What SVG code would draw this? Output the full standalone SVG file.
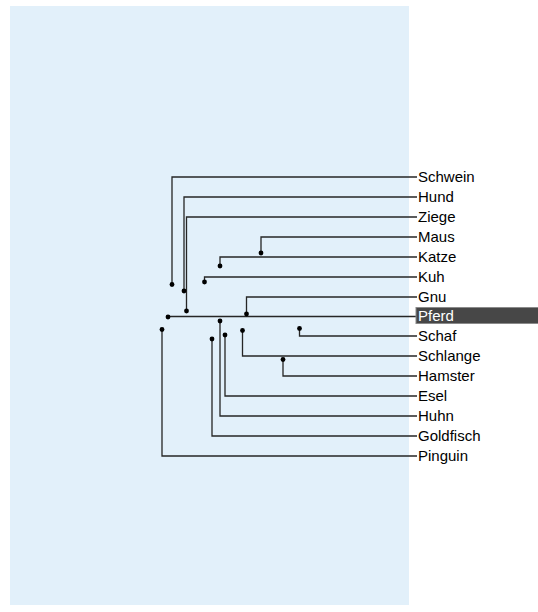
<svg xmlns="http://www.w3.org/2000/svg" width="538" height="612" viewBox="0 0 538 612">
<style>
.bg{fill:#e2f0fa}
.ln{fill:none;stroke:#262626;stroke-width:1.3}
.dot{fill:#000}
.lbl{font-family:"Liberation Sans",Arial,sans-serif;font-size:15px;fill:#000}
.sel{fill:#474747;stroke:#8a8a8a;stroke-width:1}
.lbls{font-family:"Liberation Sans",Arial,sans-serif;font-size:15px;fill:#fff}
</style>
<rect class="bg" x="10" y="6" width="399" height="599"/>
<g id="connectors">
<polyline class="ln" points="172,284 172,177 417,177"/>
<polyline class="ln" points="184,291 184,197 417,197"/>
<polyline class="ln" points="186.5,311 186.5,217 417,217"/>
<polyline class="ln" points="261,253 261,237 417,237"/>
<polyline class="ln" points="220,266 220,257 417,257"/>
<polyline class="ln" points="204.5,282 204.5,277 417,277"/>
<polyline class="ln" points="246.5,314 246.5,297 417,297"/>
<polyline class="ln" points="168,316.5 417,316.5"/>
<polyline class="ln" points="299.5,328.5 299.5,336 417,336"/>
<polyline class="ln" points="242.5,330.5 242.5,356 417,356"/>
<polyline class="ln" points="283,359.5 283,376 417,376"/>
<polyline class="ln" points="225,335 225,396 417,396"/>
<polyline class="ln" points="220,321 220,416 417,416"/>
<polyline class="ln" points="212,339 212,436 417,436"/>
<polyline class="ln" points="162,329.5 162,456 417,456"/>
</g>
<g id="Schwein"><circle class="dot" cx="172" cy="284.5" r="2.4"/><text class="lbl" x="418" y="182">Schwein</text></g>
<g id="Hund"><circle class="dot" cx="184" cy="291" r="2.4"/><text class="lbl" x="418" y="202">Hund</text></g>
<g id="Ziege"><circle class="dot" cx="186.5" cy="311" r="2.4"/><text class="lbl" x="418" y="222">Ziege</text></g>
<g id="Maus"><circle class="dot" cx="261" cy="253" r="2.4"/><text class="lbl" x="418" y="242">Maus</text></g>
<g id="Katze"><circle class="dot" cx="220" cy="266" r="2.4"/><text class="lbl" x="418" y="262">Katze</text></g>
<g id="Kuh"><circle class="dot" cx="204.5" cy="282" r="2.4"/><text class="lbl" x="418" y="282">Kuh</text></g>
<g id="Gnu"><circle class="dot" cx="246.5" cy="314" r="2.4"/><text class="lbl" x="418" y="302">Gnu</text></g>
<g id="Pferd"><circle class="dot" cx="168" cy="317" r="2.4"/><rect class="sel" x="416" y="307.5" width="124" height="16"/><text class="lbls" x="418" y="321">Pferd</text></g>
<g id="Schaf"><circle class="dot" cx="299.5" cy="328.5" r="2.4"/><text class="lbl" x="418" y="341">Schaf</text></g>
<g id="Schlange"><circle class="dot" cx="242.5" cy="330.5" r="2.4"/><text class="lbl" x="418" y="361">Schlange</text></g>
<g id="Hamster"><circle class="dot" cx="283" cy="359.5" r="2.4"/><text class="lbl" x="418" y="381">Hamster</text></g>
<g id="Esel"><circle class="dot" cx="225" cy="335" r="2.4"/><text class="lbl" x="418" y="401">Esel</text></g>
<g id="Huhn"><circle class="dot" cx="220" cy="321" r="2.4"/><text class="lbl" x="418" y="421">Huhn</text></g>
<g id="Goldfisch"><circle class="dot" cx="212" cy="339" r="2.4"/><text class="lbl" x="418" y="441">Goldfisch</text></g>
<g id="Pinguin"><circle class="dot" cx="162" cy="329.5" r="2.4"/><text class="lbl" x="418" y="461">Pinguin</text></g>
</svg>
